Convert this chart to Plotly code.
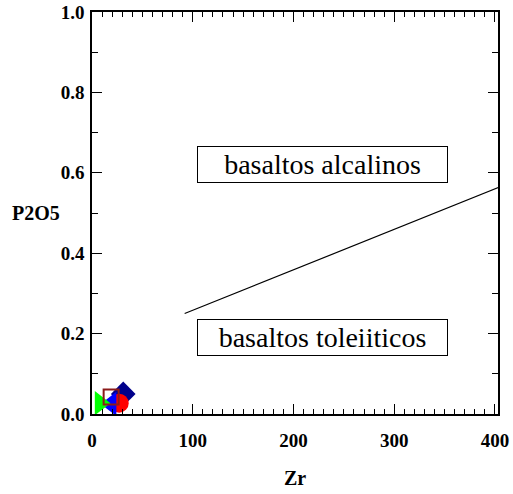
import plotly.graph_objects as go

# Sample compositions (Zr in ppm, P2O5 in wt%)
sample_names = ["A", "B", "C", "D", "E"]
sample_zr = [31, 27, 19, 8, 19]
sample_p2o5 = [0.05, 0.027, 0.025, 0.027, 0.042]
sample_symbols = ["diamond", "circle", "triangle-left", "triangle-right", "square-open"]
sample_sizes = [19, 19, 21, 21, 15]
sample_colors = ["#00008B", "#FF0000", "#0000FF", "#00FF00", "#8B1A1A"]

# Alkaline / tholeiitic boundary
boundary_zr = [92, 410]
boundary_p2o5 = [0.25, 0.57]

# Field labels
field_labels = ["basaltos alcalinos", "basaltos toleiiticos"]
field_zr = [229, 229]
field_p2o5 = [0.621, 0.19]

x_ticks = [0, 100, 200, 300, 400]
y_ticks = [0.0, 0.2, 0.4, 0.6, 0.8, 1.0]

serif = "Liberation Serif, Times New Roman, serif"

fig = go.Figure()

fig.add_trace(go.Scatter(
    x=boundary_zr, y=boundary_p2o5, mode="lines",
    line=dict(color="black", width=1.2), showlegend=False, hoverinfo="skip",
))

for name, zr, p, sym, size, col in zip(sample_names, sample_zr, sample_p2o5,
                                        sample_symbols, sample_sizes, sample_colors):
    fig.add_trace(go.Scatter(
        x=[zr], y=[p], mode="markers", name=name, showlegend=False,
        cliponaxis=False,
        marker=dict(symbol=sym, size=size, color=col,
                    line=dict(color=col, width=2 if "open" in sym else 0)),
    ))

for text, zx, py in zip(field_labels, field_zr, field_p2o5):
    fig.add_annotation(
        x=zx, y=py, xref="x", yref="y", text=text, showarrow=False,
        font=dict(family=serif, size=28, color="black"),
        width=247, height=33, align="center", valign="middle",
        bordercolor="black", borderwidth=1, borderpad=1, bgcolor="white",
    )

fig.add_annotation(x=-0.138, y=0.5, xref="paper", yref="paper",
                   xanchor="center", yanchor="middle", showarrow=False,
                   text="<b>P2O5</b>",
                   font=dict(family=serif, size=20, color="black"))
fig.add_annotation(x=0.5, y=-0.159, xref="paper", yref="paper",
                   xanchor="center", yanchor="middle", showarrow=False,
                   text="<b>Zr</b>",
                   font=dict(family=serif, size=20, color="black"))

axis_common = dict(
    showgrid=False, zeroline=False, showline=True, mirror="allticks",
    linecolor="black", linewidth=1.5, automargin=False,
    ticks="inside", ticklen=10, tickwidth=1.3, tickcolor="black",
    tickfont=dict(family=serif, size=19, color="black"),
)

fig.update_xaxes(
    range=[0, 403], tickvals=x_ticks, ticktext=[f"<b>{v}</b>" for v in x_ticks],
    ticklabelstandoff=8,
    minor=dict(dtick=10, ticks="inside", ticklen=5, tickwidth=1.1, tickcolor="black"),
    **axis_common,
)
fig.update_yaxes(
    range=[0, 1.0], tickvals=y_ticks, ticktext=[f"<b>{v:.1f}</b>" for v in y_ticks],
    ticklabelstandoff=2,
    minor=dict(dtick=0.1, ticks="inside", ticklen=6, tickwidth=1.1, tickcolor="black"),
    **axis_common,
)

fig.update_layout(
    width=513, height=494,
    margin=dict(l=92, r=15, t=12, b=80),
    plot_bgcolor="white", paper_bgcolor="white",
)

fig.write_html("out.html")
